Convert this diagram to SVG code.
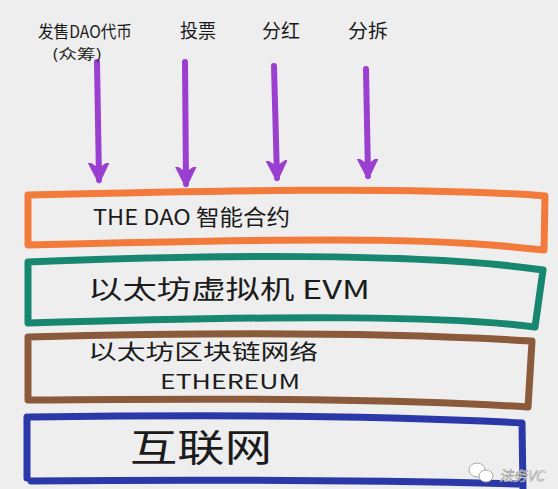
<svg xmlns="http://www.w3.org/2000/svg" width="558" height="489" viewBox="0 0 558 489">
<style>
.t{font-family:"Noto Sans CJK SC","Liberation Sans",sans-serif;fill:#1b1b1b}
.wm{font-family:"Noto Sans CJK SC","Liberation Sans",sans-serif;font-style:italic;fill:#ffffff;stroke:#9a9a9a;stroke-width:0.6}
.box{fill:none;stroke-width:7;stroke-linejoin:round;stroke-linecap:round}
.arr{stroke:#9b3fd1;stroke-width:6;stroke-linecap:round;fill:none}
</style>
<defs>
<marker id="ah" viewBox="0 0 10 10" refX="8" refY="5" markerWidth="3.6" markerHeight="3.6" orient="auto" markerUnits="strokeWidth">
<path d="M0,0.5 L9,5 L0,9.5 L3,5 Z" fill="#9b3fd1" stroke="#9b3fd1" stroke-width="1" stroke-linejoin="round"/>
</marker>
</defs>
<rect width="558" height="489" fill="#eeeeee"/>
<g id="connectors">
<path class="arr" d="M97,62 L99,180" marker-end="url(#ah)"/>
<path class="arr" d="M185,62 L186,184" marker-end="url(#ah)"/>
<path class="arr" d="M274,66 L277,178" marker-end="url(#ah)"/>
<path class="arr" d="M366,69 L368,176" marker-end="url(#ah)"/>
</g>
<g id="label-fashou">
<text class="t" x="38" y="38" font-size="17" textLength="94" lengthAdjust="spacingAndGlyphs">发售DAO代币</text>
<text class="t" x="52" y="59" font-size="14" textLength="50" lengthAdjust="spacingAndGlyphs">(众筹)</text>
</g>
<g id="label-toupiao"><text class="t" x="180" y="38" font-size="19" textLength="36" lengthAdjust="spacingAndGlyphs">投票</text></g>
<g id="label-fenhong"><text class="t" x="262" y="38" font-size="19" textLength="38" lengthAdjust="spacingAndGlyphs">分红</text></g>
<g id="label-fenchai"><text class="t" x="348" y="38" font-size="19" textLength="40" lengthAdjust="spacingAndGlyphs">分拆</text></g>
<g id="node-dao">
<path class="box" stroke="#f27b3c" d="M28,195 C200,191 420,186 545,196 L544,250 C450,240 380,236 28,245 Z"/>
<text class="t" x="93" y="225" font-size="22" textLength="197" lengthAdjust="spacingAndGlyphs">THE DAO 智能合约</text>
</g>
<g id="node-evm">
<path class="box" stroke="#17876f" d="M28,262 C200,255 420,252 543,270 L535,327 C450,316 300,315 28,323 Z"/>
<text class="t" x="88" y="299" font-size="26" textLength="282" lengthAdjust="spacingAndGlyphs">以太坊虚拟机 EVM</text>
</g>
<g id="node-ethereum">
<path class="box" stroke="#8b5a3a" d="M28,337 C250,331 400,333 532,341 L528,407 C400,399 250,398 28,400 Z"/>
<text class="t" x="88" y="359" font-size="21" textLength="230" lengthAdjust="spacingAndGlyphs">以太坊区块链网络</text>
<text class="t" x="160" y="389" font-size="20" textLength="140" lengthAdjust="spacingAndGlyphs">ETHEREUM</text>
</g>
<g id="node-internet">
<path class="box" stroke="#2b39a8" d="M30,417 C250,414 400,416 522,423 L523,489 M27,417 L27,478 M31,481 C250,479 400,481 523,484"/>
<text class="t" x="130" y="461" font-size="38" textLength="142" lengthAdjust="spacingAndGlyphs">互联网</text>
</g>
<g id="watermark">
<ellipse cx="477" cy="470" rx="8" ry="7" fill="#fff" stroke="#aaa" stroke-width="1"/>
<ellipse cx="486" cy="476" rx="7" ry="6" fill="#fff" stroke="#aaa" stroke-width="1"/>
<text class="wm" x="499" y="481" font-size="14">法务VC</text>
</g>
</svg>
